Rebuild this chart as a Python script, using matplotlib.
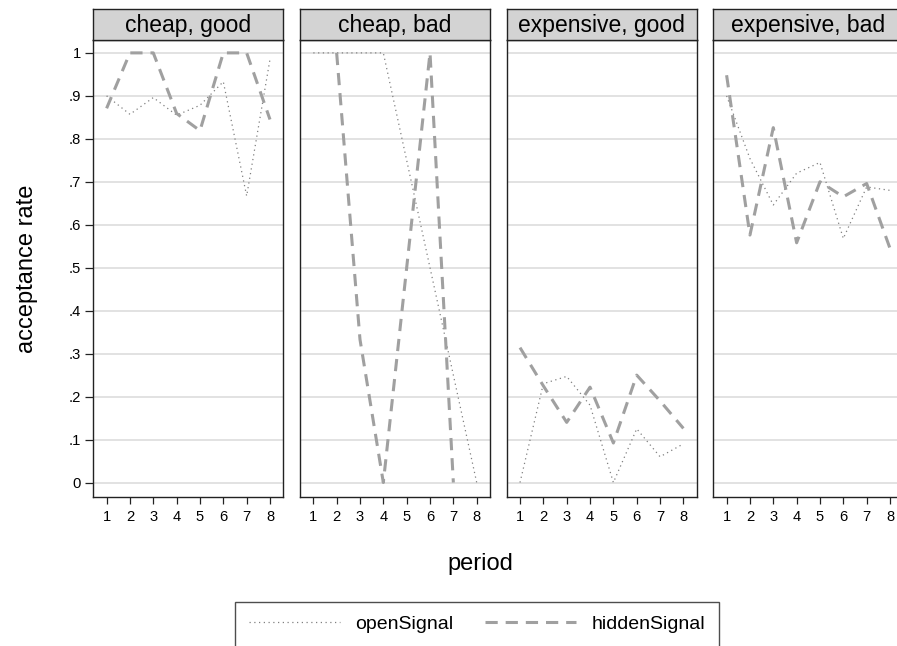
import matplotlib.pyplot as plt
import numpy as np
from matplotlib.lines import Line2D

plt.rcParams['font.family'] = ['Liberation Sans', 'DejaVu Sans']

# données
periods = [1, 2, 3, 4, 5, 6, 7, 8]
panel_titles = ["cheap, good", "cheap, bad", "expensive, good", "expensive, bad"]
ytick_labels = ["0", ".1", ".2", ".3", ".4", ".5", ".6", ".7", ".8", ".9", "1"]

cheap_good_open = [0.90, 0.857, 0.896, 0.855, 0.878, 0.933, 0.667, 0.985]
cheap_good_hidden = [0.871, 1.0, 1.0, 0.859, 0.819, 1.0, 1.0, 0.845]
cheap_bad_open = [1.0, 1.0, 1.0, 1.0, 0.75, 0.5, 0.25, 0.0]
cheap_bad_hidden = [np.nan, 1.0, 0.333, 0.0, 0.5, 1.0, 0.0, np.nan]
exp_good_open = [0.0, 0.23, 0.247, 0.18, 0.0, 0.125, 0.06, 0.09]
exp_good_hidden = [0.314, 0.225, 0.14, 0.222, 0.092, 0.25, 0.19, 0.126]
exp_bad_open = [0.9, 0.754, 0.646, 0.72, 0.745, 0.568, 0.688, 0.68]
exp_bad_hidden = [0.948, 0.576, 0.826, 0.558, 0.70, 0.665, 0.696, 0.545]

open_series = [cheap_good_open, cheap_bad_open, exp_good_open, exp_bad_open]
hidden_series = [cheap_good_hidden, cheap_bad_hidden, exp_good_hidden, exp_bad_hidden]

open_style = dict(color="#808080", lw=0.9, ls=(0, (1, 2.8)))
hidden_style = dict(color="#a0a0a0", lw=2.2, ls=(0, (4, 2.6)))

W, H = 897, 646
fig = plt.figure(figsize=(W / 100, H / 100), dpi=100)

# positions des panneaux en pixels
lefts = [93.3, 300, 506.7, 713.3]
pw = 190
bottom, top, head_top = 496.7, 40, 9

for i in range(4):
    ax = fig.add_axes([lefts[i] / W, 1 - bottom / H, pw / W, (bottom - top) / H])
    ax.plot(periods, open_series[i], **open_style)
    ax.plot(periods, hidden_series[i], **hidden_style)
    ax.set_xlim(0.43, 8.57)
    ax.set_ylim(-0.033, 1.03)
    ax.set_xticks(periods)
    ax.set_yticks(np.arange(11) / 10)
    ax.yaxis.grid(True, color="#e2e2e2", lw=1.4)
    ax.set_axisbelow(True)
    for s in ax.spines.values():
        s.set_color("#222222")
        s.set_linewidth(1.0)
    ax.tick_params(axis="x", length=4.8, width=0.9, pad=4.5, labelsize=10.6, color="#222222")
    if i == 0:
        ax.set_yticklabels(ytick_labels)
        ax.tick_params(axis="y", length=6, width=0.9, pad=3, labelsize=10.6, color="#222222")
        ax.set_ylabel("acceptance rate", fontsize=17, labelpad=22)
    else:
        ax.tick_params(axis="y", length=0, labelleft=False)
    # bandeau du titre
    hax = fig.add_axes([lefts[i] / W, 1 - top / H, pw / W, (top - head_top) / H])
    hax.set_facecolor("#d3d3d3")
    hax.set_xticks([])
    hax.set_yticks([])
    for s in hax.spines.values():
        s.set_color("#222222")
        s.set_linewidth(1.0)
    hax.text(0.5, 0.47, panel_titles[i], ha="center", va="center", fontsize=16.5,
             transform=hax.transAxes)

fig.text(480 / W, 1 - 564 / H, "period", ha="center", va="center", fontsize=17)

# légende en bas
handles = [Line2D([], [], **open_style), Line2D([], [], **hidden_style)]
leg = fig.legend(handles, ["openSignal", "hiddenSignal"], ncol=2, loc="upper center",
                 bbox_to_anchor=(477 / W, 1 - 602 / H), fontsize=14, frameon=True,
                 fancybox=False, edgecolor="#222222", handlelength=4.7,
                 handletextpad=0.8, columnspacing=1.6, borderpad=0.7, borderaxespad=0)
leg.get_frame().set_linewidth(1.0)

fig.savefig("out.png", dpi=100)
